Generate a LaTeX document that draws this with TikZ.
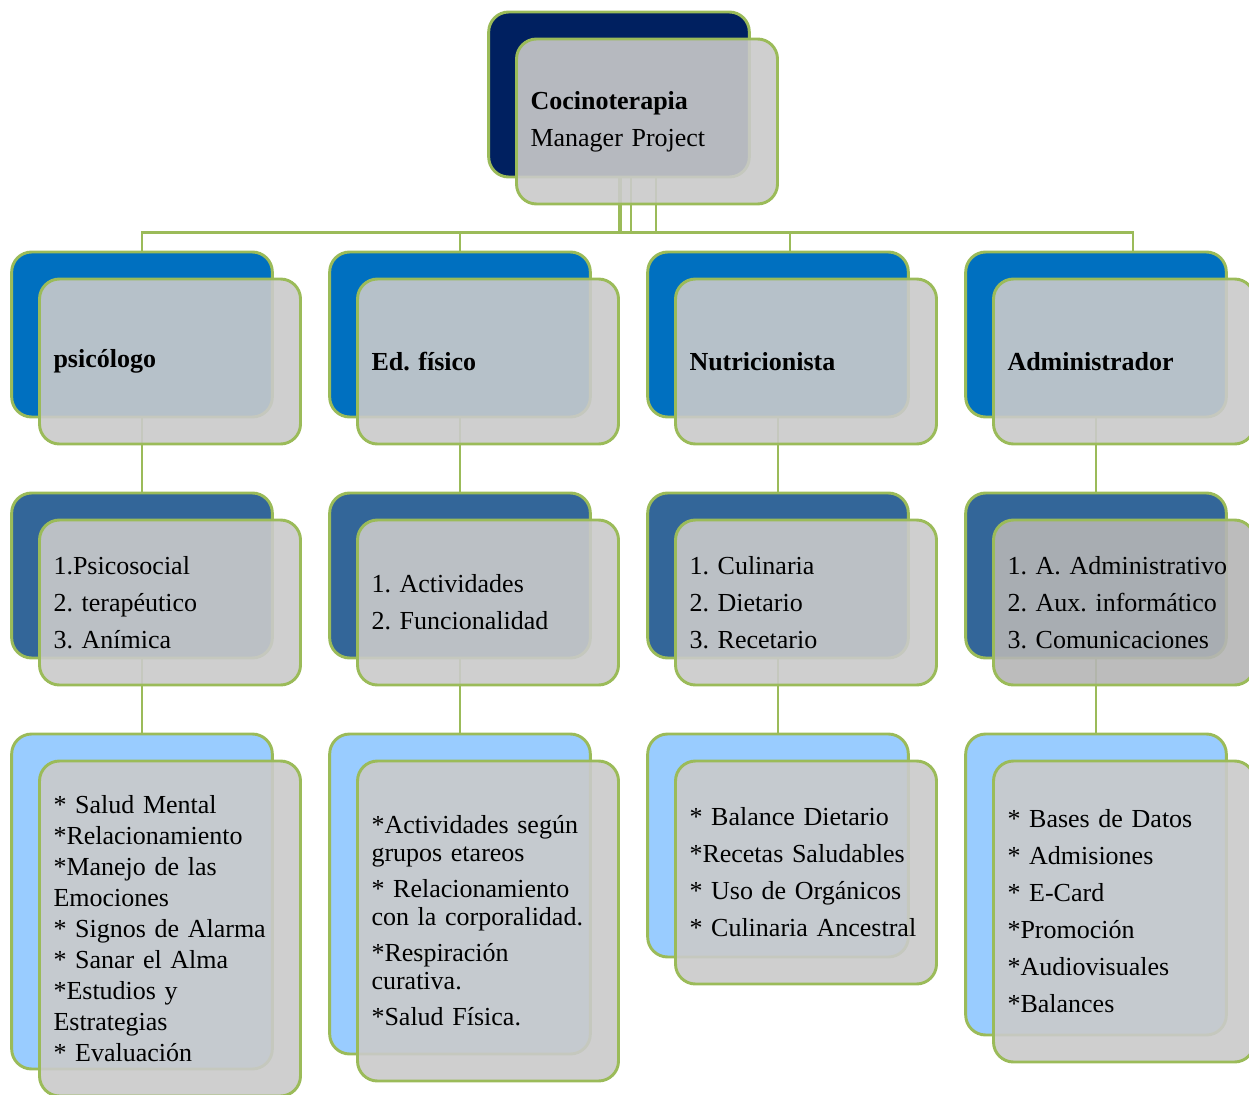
\documentclass[tikz,border=0pt]{standalone}
\usepackage{fontspec}
\setmainfont{Liberation Serif}
\usetikzlibrary{positioning,calc,backgrounds}
\definecolor{cardgreen}{HTML}{9BBB59}
\definecolor{cardgrey}{HTML}{CACACA}
\definecolor{admgrey}{HTML}{B5B5B5}
\definecolor{topnavy}{HTML}{002060}
\definecolor{lvlone}{HTML}{0070C0}
\definecolor{lvltwo}{HTML}{336699}
\definecolor{lvlthree}{HTML}{99CCFF}
\frenchspacing

\begin{document}
\begin{tikzpicture}[x=0.75pt,y=-0.75pt,
    card/.style={rounded corners=15pt, draw=cardgreen, line width=2.2pt, minimum width=195.5pt, inner sep=0pt},
    back/.style={card, minimum height=#1},
    front/.style={card, fill=cardgrey, fill opacity=0.9, text opacity=1, text width=174.75pt,
      inner xsep=10.5pt, align=left, font=\fontsize{19.5}{27.75}\selectfont, minimum height=#1},
    link/.style={draw=cardgreen, line width=2.2pt},
    node distance=54.8pt and 40.8pt]
  \useasboundingbox (0,0) rectangle (1249,1095);
  % top
  \node[back=123.75pt, fill=topnavy] (cocb) at (619,94.5) {};
  \node[front=123.75pt] (coc) at ($(cocb.center)+(28,27)$) {\textbf{Cocinoterapia}\\Manager Project};
  % first row
  \node[back=123.75pt, fill=lvlone] (psi1b) at (142,334.5) {};
  \node[front=123.75pt] (psi1) at ($(psi1b.center)+(28,27)$) {\textbf{psicólogo}};
  \node[back=123.75pt, fill=lvlone, right=of psi1b] (ed1b) {};
  \node[front=123.75pt] (ed1) at ($(ed1b.center)+(28,27)$) {\textbf{Ed. físico}};
  \node[back=123.75pt, fill=lvlone, right=of ed1b] (nut1b) {};
  \node[front=123.75pt] (nut1) at ($(nut1b.center)+(28,27)$) {\textbf{Nutricionista}};
  \node[back=123.75pt, fill=lvlone, right=of nut1b] (adm1b) {};
  \node[front=123.75pt] (adm1) at ($(adm1b.center)+(28,27)$) {\textbf{Administrador}};
  % second row
  \node[back=123.75pt, fill=lvltwo, below=of psi1b] (psi2b) {};
  \node[front=123.75pt] (psi2) at ($(psi2b.center)+(28,27)$) {1.Psicosocial\\2. terapéutico\\3. Anímica};
  \node[back=123.75pt, fill=lvltwo, below=of ed1b] (ed2b) {};
  \node[front=123.75pt] (ed2) at ($(ed2b.center)+(28,27)$) {1. Actividades\\2. Funcionalidad};
  \node[back=123.75pt, fill=lvltwo, below=of nut1b] (nut2b) {};
  \node[front=123.75pt] (nut2) at ($(nut2b.center)+(28,27)$) {1. Culinaria\\2. Dietario\\3. Recetario};
  \node[back=123.75pt, fill=lvltwo, below=of adm1b] (adm2b) {};
  \node[front=123.75pt, fill=admgrey] (adm2) at ($(adm2b.center)+(28,27)$) {1. A. Administrativo\\2. Aux. informático\\3. Comunicaciones};
  % third row
  \node[back=251.25pt, fill=lvlthree, below=of psi2b] (psi3b) {};
  \node[front=251.25pt, font=\fontsize{19.5}{23.25}\selectfont] (psi3) at ($(psi3b.center)+(28,27)$)
    {{*} Salud Mental\\{*}Relacionamiento\\{*}Manejo de las\\Emociones\\{*} Signos de Alarma\\{*} Sanar el Alma\\{*}Estudios y\\Estrategias\\{*} Evaluación};
  \node[back=240pt, fill=lvlthree, below=of ed2b] (ed3b) {};
  \node[front=240pt, font=\fontsize{19.5}{21}\selectfont] (ed3) at ($(ed3b.center)+(28,27)$)
    {{*}Actividades según\\grupos etareos\\[6pt]{*} Relacionamiento\\con la corporalidad.\\[6pt]{*}Respiración\\curativa.\\[6pt]{*}Salud Física.};
  \node[back=167.25pt, fill=lvlthree, below=of nut2b] (nut3b) {};
  \node[front=167.25pt] (nut3) at ($(nut3b.center)+(28,27)$)
    {{*} Balance Dietario\\{*}Recetas Saludables\\{*} Uso de Orgánicos\\{*} Culinaria Ancestral};
  \node[back=225.75pt, fill=lvlthree, below=of adm2b] (adm3b) {};
  \node[front=225.75pt] (adm3) at ($(adm3b.center)+(28,27)$)
    {{*} Bases de Datos\\{*} Admisiones\\{*} E-Card\\{*}Promoción\\{*}Audiovisuales\\{*}Balances};
  % connectors
  \begin{pgfonlayer}{background}
    \foreach \c/\d/\e in {psi/0/0,ed/12/0,nut/2/12,adm/37/37}
      \draw[link] ($(cocb.south)+(\d,0)$) -- ++(0,54) -| ($(\c1b.north)+(\e,0)$);
    \foreach \c in {psi,ed,nut,adm} {
      \draw[link] (\c1b.south) -- (\c2b.north);
      \draw[link] (\c2b.south) -- (\c3b.north);
    }
  \end{pgfonlayer}
\end{tikzpicture}
\end{document}
